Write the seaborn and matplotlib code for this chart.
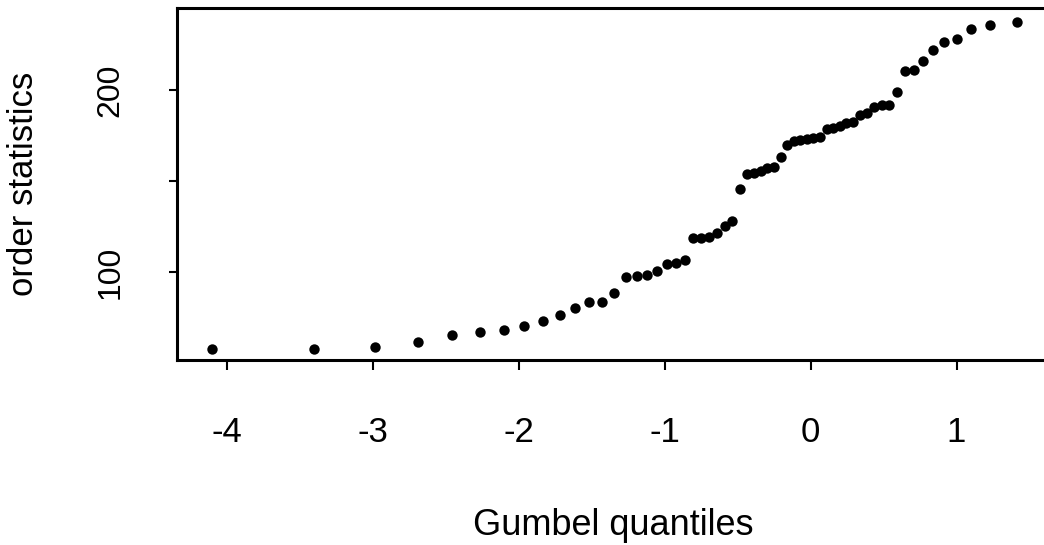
import matplotlib
matplotlib.use("Agg")
import matplotlib.pyplot as plt
import seaborn as sns

# Gumbel (minimum) plotting positions for a sample of 60
gumbel_q = [
    -4.1026, -3.4011, -2.9872, -2.6909, -2.4590, -2.2678, -2.1046, -1.9620,
    -1.8349, -1.7201, -1.6152, -1.5184, -1.4285, -1.3443, -1.2650, -1.1900,
    -1.1188, -1.0508, -0.9856, -0.9231, -0.8628, -0.8045, -0.7480, -0.6932,
    -0.6399, -0.5878, -0.5370, -0.4872, -0.4383, -0.3903, -0.3430, -0.2963,
    -0.2502, -0.2045, -0.1593, -0.1143, -0.0695, -0.0249, 0.0196, 0.0642,
    0.1090, 0.1540, 0.1993, 0.2450, 0.2914, 0.3385, 0.3865, 0.4356,
    0.4861, 0.5383, 0.5924, 0.6490, 0.7088, 0.7724, 0.8412, 0.9169,
    1.0023, 1.1027, 1.2290, 1.4137,
]

# Sorted sample values
order_stats = [
    57.7, 58.0, 59.1, 61.7, 65.4, 67.3, 68.3, 70.3,
    73.2, 76.3, 80.2, 83.5, 83.6, 88.6, 97.4, 98.0,
    98.7, 100.7, 104.5, 105.3, 106.5, 118.6, 118.8, 119.2,
    121.3, 125.4, 128.1, 145.7, 153.9, 154.7, 155.7, 157.0,
    157.6, 163.4, 169.8, 172.2, 172.6, 173.3, 173.7, 174.0,
    178.4, 179.3, 180.2, 181.7, 182.4, 186.3, 187.2, 190.7,
    191.8, 191.8, 198.7, 210.4, 211.0, 215.9, 222.0, 226.2,
    228.2, 233.3, 235.7, 237.5,
]

x_ticks = [-4, -3, -2, -1, 0, 1]
x_tick_labels = ["-4", "-3", "-2", "-1", "0", "1"]
y_ticks = [100, 150, 200]
y_tick_labels = ["100", "", "200"]

sns.set_style("ticks")
plt.rcParams["font.family"] = ["Liberation Sans", "DejaVu Sans"]
plt.rcParams["text.color"] = "black"
plt.rcParams["axes.labelcolor"] = "black"
plt.rcParams["xtick.color"] = "black"
plt.rcParams["ytick.color"] = "black"

fig = plt.figure(figsize=(10.44, 5.45), dpi=100)
ax = fig.add_axes([177 / 1044, 185 / 545, 872 / 1044, 352 / 545])

sns.scatterplot(x=gumbel_q, y=order_stats, ax=ax, color="black",
                s=56, linewidth=0, legend=False)

ax.set_xlim(-4.343, 1.634)
ax.set_ylim(51.8, 245.0)

ax.set_xticks(x_ticks)
ax.set_xticklabels(x_tick_labels, fontsize=25, color="black")
ax.set_yticks(y_ticks)
ax.set_yticklabels(y_tick_labels, fontsize=23, rotation=90, va="center",
                   color="black")

ax.tick_params(axis="x", direction="out", length=7, width=1.5, pad=33,
               color="black")
ax.tick_params(axis="y", direction="out", length=6, width=1.5, pad=31,
               color="black")

for side in ["left", "right", "top", "bottom"]:
    ax.spines[side].set_linewidth(2.2)
    ax.spines[side].set_color("black")

ax.set_xlabel("Gumbel quantiles", fontsize=26, labelpad=43, color="black")
ax.set_ylabel("order statistics", fontsize=25, labelpad=40, color="black")

fig.savefig("out.png", dpi=100)
